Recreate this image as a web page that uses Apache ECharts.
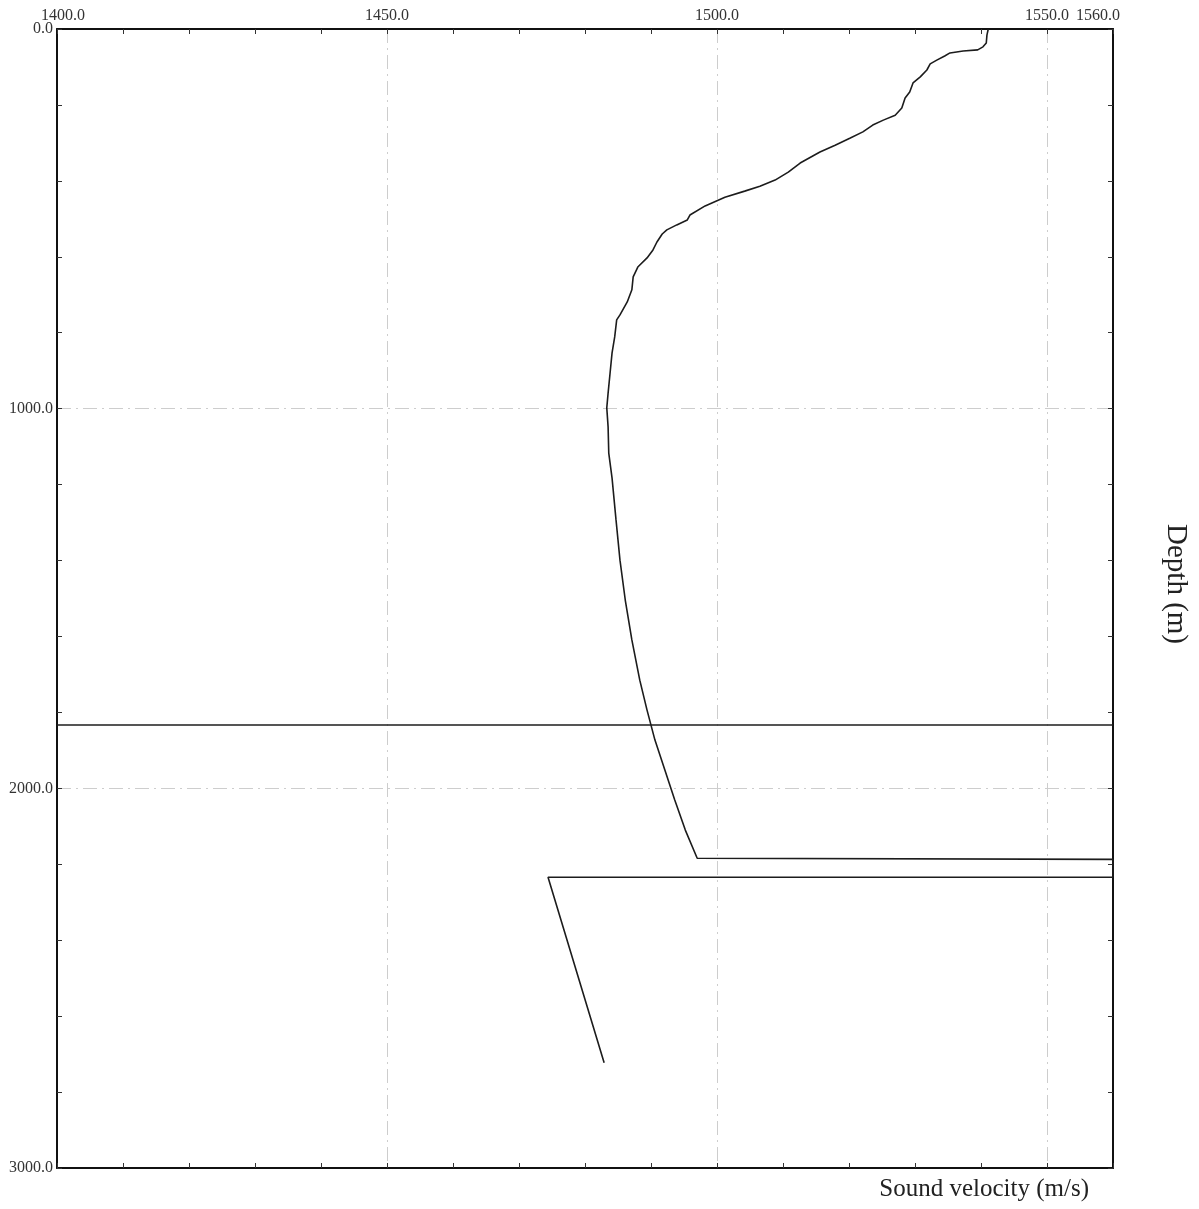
<!DOCTYPE html>
<html>
<head>
<meta charset="utf-8">
<script src="https://cdn.jsdelivr.net/npm/echarts@6/dist/echarts.min.js"></script>
<style>
html,body{margin:0;padding:0;background:#fff;}
#chart{width:1199px;height:1209px;}
</style>
</head>
<body>
<div id="chart"></div>
<script>
// Sound velocity profile (m/s) and depth (m)
const profileVelocity = [
  1541.1, 1540.9, 1540.8, 1540.3, 1539.5, 1537.3, 1535.3, 1534.5, 1533.3, 1532.3,
  1531.8, 1530.8, 1529.7, 1529.2, 1528.5, 1528.0, 1527.0, 1525.2, 1523.6, 1522.1,
  1520.2, 1517.9, 1515.6, 1512.6, 1510.8, 1508.8, 1506.5, 1504.2, 1501.2, 1498.2,
  1495.9, 1495.5, 1493.9, 1492.4, 1491.7, 1490.9, 1490.3, 1489.4, 1488.0, 1487.3,
  1487.1, 1486.4, 1485.3, 1484.8, 1484.5, 1484.1, 1483.8, 1483.5, 1483.3, 1483.5,
  1483.6, 1484.1, 1484.7, 1485.3, 1486.1, 1487.1, 1488.3, 1489.4, 1490.6, 1492.1,
  1493.6, 1495.2, 1497.0, 1560.0, 1560.0, 1474.4, 1482.9
];
const profileDepth = [
  0, 16, 37, 47, 55, 58, 63, 71, 82, 92,
  108, 126, 142, 166, 182, 208, 227, 240, 253, 271,
  287, 306, 324, 353, 377, 398, 414, 427, 443, 466,
  490, 503, 516, 529, 540, 561, 582, 603, 627, 653,
  687, 719, 753, 766, 811, 853, 906, 959, 998, 1048,
  1117, 1183, 1293, 1399, 1504, 1609, 1715, 1794, 1873, 1952,
  2031, 2110, 2184, 2187, 2234, 2234, 2723
];
// Horizontal reference line
const refLineVelocity = [1400, 1560];
const refLineDepth = [1833, 1833];

const xLabelTicks = [1400, 1450, 1500, 1550, 1560];
const yLabelTicks = [0, 1000, 2000, 3000];

const FONT = "'Liberation Serif', 'Times New Roman', serif";
const gridStyle = { color: '#cdcdcd', width: 1, type: [14, 5, 2, 5] };

const chart = echarts.init(document.getElementById('chart'), null, { renderer: 'canvas' });

const profileData = profileVelocity.map((v, i) => [v, profileDepth[i]]);
const refData = refLineVelocity.map((v, i) => [v, refLineDepth[i]]);

const option = {
  backgroundColor: '#ffffff',
  animation: false,
  grid: { left: 57, right: 86, top: 29, bottom: 41, containLabel: false },
  xAxis: [
    {
      type: 'value', position: 'top', min: 1400, max: 1560, interval: 50,
      axisLine: { show: true, onZero: false, lineStyle: { color: '#111', width: 2 } },
      axisTick: { show: false },
      axisLabel: {
        show: true, margin: 5, fontFamily: FONT, fontSize: 16, color: '#333',
        hideOverlap: false,
        formatter: v => {
          if (!xLabelTicks.includes(v)) return '';
          if (v === 1560) return '{last|' + v.toFixed(1) + '}';
          if (v === 1400) return '{first|' + v.toFixed(1) + '}';
          return v.toFixed(1);
        },
        rich: {
          last: { fontFamily: FONT, fontSize: 16, color: '#333', padding: [0, 30, 0, 0] },
          first: { fontFamily: FONT, fontSize: 16, color: '#333', padding: [0, 0, 0, 12] }
        }
      },
      splitLine: { show: true, lineStyle: gridStyle }
    },
    {
      type: 'value', position: 'top', min: 1400, max: 1560, interval: 10,
      axisLine: { show: false },
      axisTick: { show: true, inside: true, length: 5, lineStyle: { color: '#333', width: 1 } },
      axisLabel: { show: false },
      splitLine: { show: false }
    },
    {
      type: 'value', position: 'bottom', min: 1400, max: 1560, interval: 10,
      axisLine: { show: true, onZero: false, lineStyle: { color: '#111', width: 2 } },
      axisTick: { show: true, inside: true, length: 5, lineStyle: { color: '#333', width: 1 } },
      axisLabel: { show: false },
      splitLine: { show: false }
    }
  ],
  yAxis: [
    {
      type: 'value', position: 'left', inverse: true, min: 0, max: 3000, interval: 1000,
      axisLine: { show: true, onZero: false, lineStyle: { color: '#111', width: 2 } },
      axisTick: { show: true, inside: true, length: 5, lineStyle: { color: '#333', width: 1 } },
      minorTick: { show: true, splitNumber: 5, length: 5, lineStyle: { color: '#333', width: 1 } },
      axisLabel: {
        show: true, margin: 4, fontFamily: FONT, fontSize: 16, color: '#333',
        formatter: v => yLabelTicks.includes(v) ? v.toFixed(1) : ''
      },
      splitLine: { show: true, lineStyle: gridStyle }
    },
    {
      type: 'value', position: 'right', inverse: true, min: 0, max: 3000, interval: 200,
      axisLine: { show: true, onZero: false, lineStyle: { color: '#111', width: 2 } },
      axisTick: { show: true, inside: true, length: 5, lineStyle: { color: '#333', width: 1 } },
      axisLabel: { show: false },
      splitLine: { show: false }
    }
  ],
  series: [
    {
      name: 'Sound velocity', type: 'line', xAxisIndex: 0, yAxisIndex: 0,
      data: profileData, showSymbol: false, symbol: 'none', smooth: false,
      lineStyle: { color: '#1c1c1c', width: 1.6 }, z: 5
    },
    {
      name: 'Reference depth', type: 'line', xAxisIndex: 0, yAxisIndex: 0,
      data: refData, showSymbol: false, symbol: 'none',
      lineStyle: { color: '#1c1c1c', width: 1.5 }, z: 5
    }
  ],
  graphic: [
    {
      type: 'text', right: 110, top: 1177,
      style: { text: 'Sound velocity (m/s)', font: "25px " + FONT, fill: '#222' }
    },
    {
      type: 'text', x: 1176, y: 584, rotation: -Math.PI / 2,
      style: { text: 'Depth (m)', font: "29px " + FONT, fill: '#222', align: 'center', verticalAlign: 'middle' }
    }
  ]
};
chart.setOption(option);
</script>
</body>
</html>
